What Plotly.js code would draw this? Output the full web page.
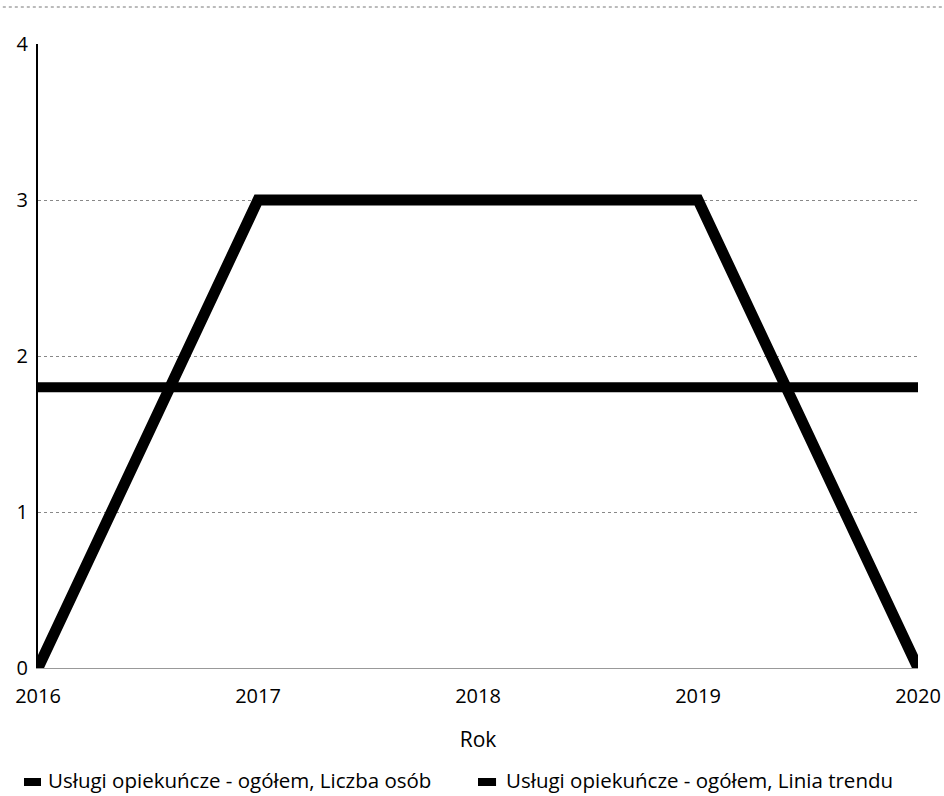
<!DOCTYPE html>
<html>
<head>
<meta charset="utf-8">
<script src="https://cdn.plot.ly/plotly-3.0.1.min.js"></script>
<style>html,body{margin:0;padding:0;background:#fff;}#chart{width:944px;height:796px;}</style>
</head>
<body>
<div id="chart"></div>
<script>
const years = [2016, 2017, 2018, 2019, 2020];
const liczbaOsob = [0, 3, 3, 3, 0];
const liniaTrendu = [1.8, 1.8, 1.8, 1.8, 1.8];
const seriesNames = ["Usługi opiekuńcze - ogółem, Liczba osób", "Usługi opiekuńcze - ogółem, Linia trendu"];
const yTicks = [0, 1, 2, 3, 4];
const xTitle = "Rok";

const font = "Open Sans, Noto Sans, sans-serif";
const data = [
  {x: years, y: liczbaOsob, type: "scatter", mode: "lines", name: seriesNames[0],
   line: {color: "#000", width: 11}, showlegend: false},
  {x: years, y: liniaTrendu, type: "scatter", mode: "lines", name: seriesNames[1],
   line: {color: "#000", width: 10}, showlegend: false}
];
const layout = {
  width: 944, height: 796,
  margin: {l: 38, r: 26, t: 44, b: 128},
  paper_bgcolor: "#fff", plot_bgcolor: "#fff",
  font: {family: font, color: "#000", size: 20},
  showlegend: false,
  xaxis: {
    range: [years[0], years[years.length - 1]],
    tickvals: years, ticktext: years.map(String),
    showgrid: false, zeroline: false,
    showline: true, linecolor: "#999", linewidth: 1,
    ticks: "", ticklabelstandoff: 10,
    tickfont: {size: 20, color: "#000"},
    title: {text: xTitle, font: {size: 21, color: "#000"}, standoff: 24}
  },
  yaxis: {
    range: [0, 4], tickvals: yTicks,
    showgrid: true, gridcolor: "#888", griddash: "dot", gridwidth: 1,
    zeroline: false, showline: true, linecolor: "#000", linewidth: 2,
    ticks: "", ticklabelstandoff: 4,
    tickfont: {size: 20, color: "#000"}
  },
  shapes: [
    {type: "line", xref: "paper", yref: "paper", x0: -0.04, x1: 1.03, y0: 1.0 + 37/624, y1: 1.0 + 37/624,
     line: {color: "#777", width: 1, dash: "dot"}},
    {type: "rect", xref: "paper", yref: "paper", x0: -0.0159, x1: 0.0034, y0: -0.1891, y1: -0.1763,
     fillcolor: "#000", line: {width: 0}},
    {type: "rect", xref: "paper", yref: "paper", x0: 0.5, x1: 0.5205, y0: -0.1891, y1: -0.1763,
     fillcolor: "#000", line: {width: 0}}
  ],
  annotations: [
    {xref: "paper", yref: "paper", x: 0.0091, y: -0.1795, xanchor: "left", yanchor: "middle",
     showarrow: false, text: seriesNames[0], font: {size: 20.5, color: "#000"}},
    {xref: "paper", yref: "paper", x: 0.5295, y: -0.1795, xanchor: "left", yanchor: "middle",
     showarrow: false, text: seriesNames[1], font: {size: 20.5, color: "#000"}}
  ]
};
Plotly.newPlot("chart", data, layout, {displayModeBar: false, staticPlot: true});
</script>
</body>
</html>
